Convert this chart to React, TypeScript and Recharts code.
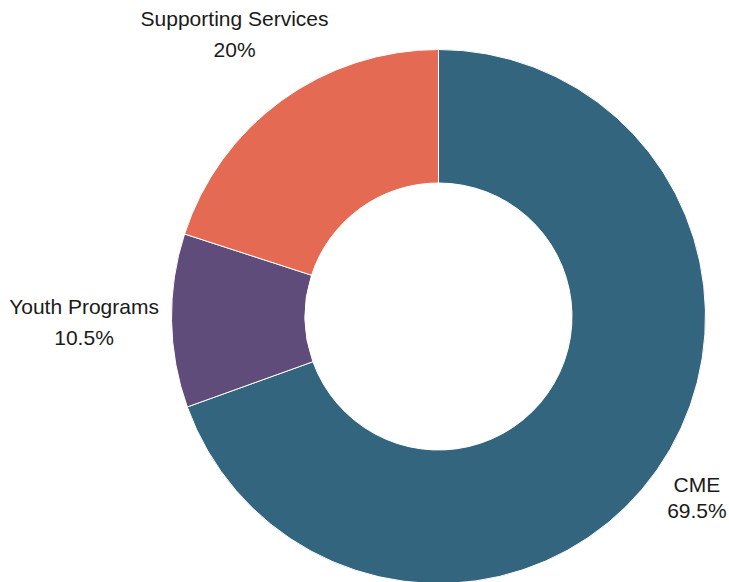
import { PieChart, Pie, Cell } from "recharts"

const categories = ["CME", "Youth Programs", "Supporting Services"]
const shares = [69.5, 10.5, 20]
const colors = ["#34657f", "#604c7a", "#e56a54"]

// label nudges from the slice's outer edge, per category (gap = line spacing)
const labelNudge: Record<string, { dx: number; dy: number; gap: number }> = {
  CME: { dx: 40, dy: 22, gap: 26 },
  "Youth Programs": { dx: -87.5, dy: -6.7, gap: 31 },
  "Supporting Services": { dx: -47, dy: -74, gap: 30.5 },
}

const data = categories.map((name, i) => ({ name, value: shares[i] }))

const RADIAN = Math.PI / 180

function renderLabel(props: any) {
  const { cx, cy, midAngle, outerRadius, name, value } = props
  const x = cx + outerRadius * Math.cos(-midAngle * RADIAN)
  const y = cy + outerRadius * Math.sin(-midAngle * RADIAN)
  const n = labelNudge[name] || { dx: 0, dy: 0, gap: 30 }
  return (
    <text
      x={x + n.dx}
      y={y + n.dy}
      textAnchor="middle"
      fill="#1a1a1a"
      fontSize={21}
      fontFamily="'Liberation Sans', Arial, sans-serif"
    >
      <tspan x={x + n.dx}>{name}</tspan>
      <tspan x={x + n.dx} dy={n.gap}>
        {value}%
      </tspan>
    </text>
  )
}

export default function App() {
  return (
    <div style={{ position: "absolute", left: 0, top: 0, background: "#fff" }}>
      <PieChart width={729} height={582} margin={{ top: 0, right: 0, bottom: 0, left: 0 }}>
        <Pie
          data={data}
          dataKey="value"
          nameKey="name"
          cx={438.5}
          cy={316.5}
          innerRadius={133.5}
          outerRadius={267}
          startAngle={90}
          endAngle={-270}
          stroke="#fff"
          strokeWidth={1}
          label={renderLabel}
          labelLine={false}
          isAnimationActive={false}
        >
          {data.map((d, i) => (
            <Cell key={d.name} fill={colors[i]} />
          ))}
        </Pie>
      </PieChart>
    </div>
  )
}
